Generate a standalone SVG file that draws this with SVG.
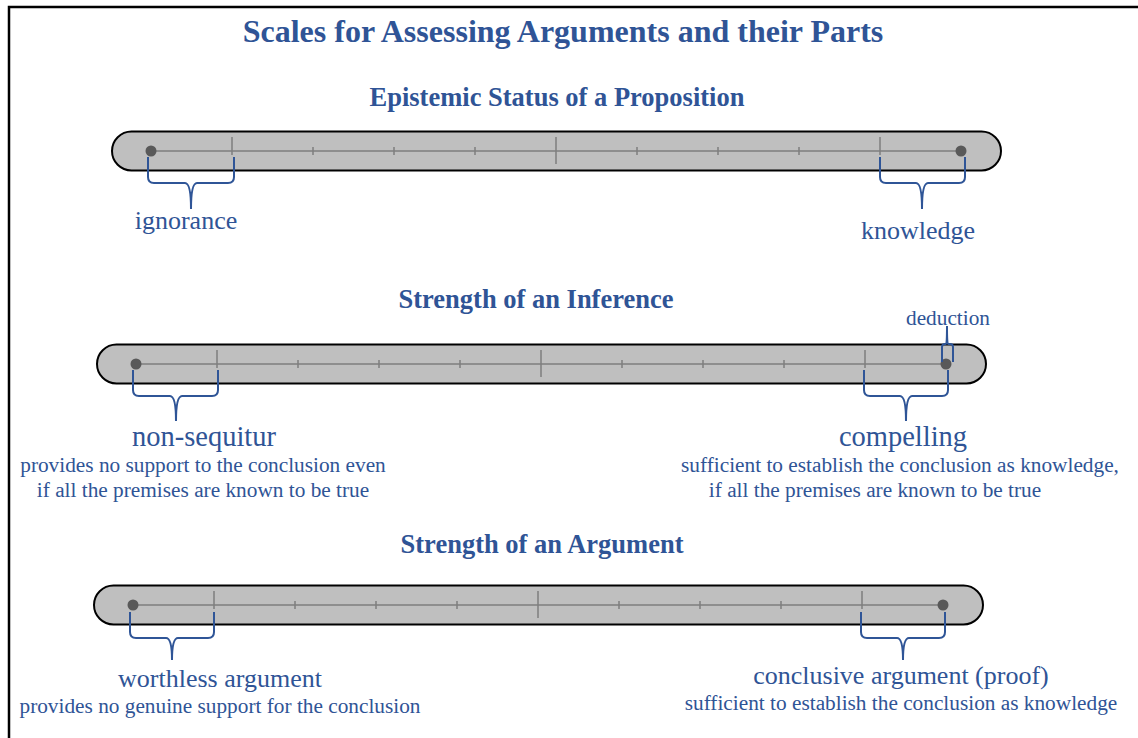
<svg xmlns="http://www.w3.org/2000/svg" width="1138" height="738" viewBox="0 0 1138 738">
<defs>
<style>
.t{font-family:"Liberation Serif","Times New Roman",serif;fill:#2F5496;text-anchor:middle}
.h1{font-size:32px;font-weight:bold}
.h2{font-size:26.5px;font-weight:bold}
.lb{font-size:26px}
.lb2{font-size:28.5px}
.sm{font-size:21.3px}
.bar{fill:#BFBFBF;stroke:#000;stroke-width:2}
.axis{stroke:#7F7F7F;stroke-width:1.5;fill:none}
.dot{fill:#595959}
.br{fill:none;stroke:#2F5597;stroke-width:2;stroke-linejoin:round}
</style>
<g id="scale">
<rect class="bar" x="-39" y="-19.5" width="889" height="39" rx="19.5"/>
<path class="axis" d="M0,0H810M162,-4V4M243,-4V4M324,-4V4M486,-4V4M567,-4V4M648,-4V4M81,-14V4M729,-14V4M405,-14V13"/>
<circle class="dot" cx="0" cy="0" r="5.5"/>
<circle class="dot" cx="810" cy="0" r="5.5"/>
</g>
</defs>
<rect width="1138" height="738" fill="#fff"/>
<path d="M9,738V7H1138" fill="none" stroke="#000" stroke-width="2.5"/>
<g id="title"><text class="t h1" x="563" y="42">Scales for Assessing Arguments and their Parts</text></g>

<g id="section-epistemic">
<text class="t h2" x="557" y="106">Epistemic Status of a Proposition</text>
<use href="#scale" x="151" y="151"/>
</g>
<g id="label-ignorance"><text class="t lb" x="186" y="229">ignorance</text></g>
<g id="label-knowledge"><text class="t lb" x="918" y="239">knowledge</text></g>

<g id="section-inference">
<text class="t h2" x="536" y="308">Strength of an Inference</text>
<use href="#scale" x="136" y="364"/>
</g>
<g id="label-deduction"><text class="t sm" x="948" y="325">deduction</text></g>
<g id="label-nonsequitur">
<text class="t lb2" x="204" y="446">non-sequitur</text>
<text class="t sm" x="203" y="472">provides no support to the conclusion even</text>
<text class="t sm" x="203" y="497">if all the premises are known to be true</text>
</g>
<g id="label-compelling">
<text class="t lb2" x="903" y="446">compelling</text>
<text class="t sm" x="900" y="472">sufficient to establish the conclusion as knowledge,</text>
<text class="t sm" x="875" y="497">if all the premises are known to be true</text>
</g>

<g id="section-argument">
<text class="t h2" x="542" y="553">Strength of an Argument</text>
<use href="#scale" x="133" y="605"/>
</g>
<g id="label-worthless">
<text class="t lb" x="220" y="687">worthless argument</text>
<text class="t sm" x="220" y="713">provides no genuine support for the conclusion</text>
</g>
<g id="label-conclusive">
<text class="t lb" x="901" y="684">conclusive argument (proof)</text>
<text class="t sm" x="901" y="710">sufficient to establish the conclusion as knowledge</text>
</g>

<g id="connectors">
<path class="br" d="M148,157V177Q148,183 154,183H185Q191,183 191,209M191,209Q191,183 197,183H228Q234,183 234,177V157"/>
<path class="br" d="M880,157V177Q880,183 886,183H916Q922,183 922,209M922,209Q922,183 928,183H959Q965,183 965,177V157"/>
<path class="br" d="M133,370V390Q133,396 139,396H170Q176,396 176,421M176,421Q176,396 182,396H212Q218,396 218,390V370"/>
<path class="br" d="M864,370V390Q864,396 870,396H900Q906,396 906,421M906,421Q906,396 912,396H942Q948,396 948,390V370"/>
<path class="br" d="M942,362V347Q942,344 945,344H946Q947,344 947,326M947,326Q947,344 948,344H950Q953,344 953,347V362"/>
<path class="br" d="M130,612V632Q130,638 136,638H166Q172,638 172,660M172,660Q172,638 178,638H208Q214,638 214,632V612"/>
<path class="br" d="M861,612V632Q861,638 867,638H897Q903,638 903,660M903,660Q903,638 909,638H939Q945,638 945,632V612"/>
</g>
</svg>
